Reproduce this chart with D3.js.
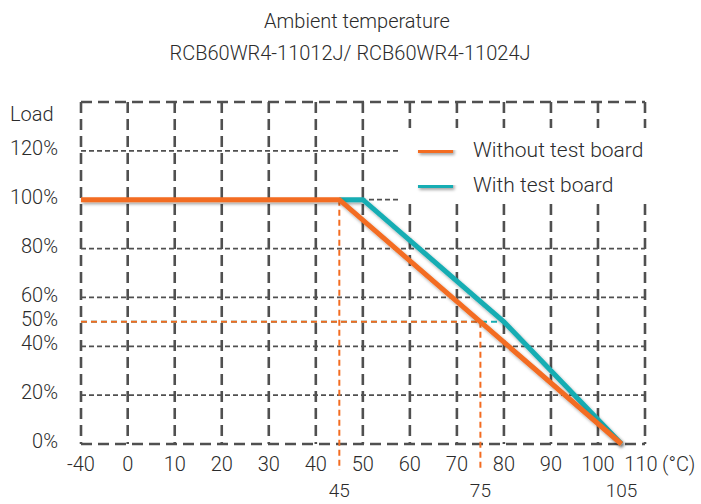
<!DOCTYPE html>
<html>
<head>
<meta charset="utf-8">
<script src="https://cdn.jsdelivr.net/npm/d3@7"></script>
<style>
  body { margin: 0; background: #fff; }
  text { font-family: Roboto, "Noto Sans", sans-serif; font-weight: 300; fill: #2b2b2b; }
</style>
</head>
<body>
<div id="chart"></div>
<script>
// data
var xTicks = [-40, 0, 10, 20, 30, 40, 50, 60, 70, 80, 90, 100, 110];
var markTicks = [45, 75, 105];
var yTicks = [0, 20, 40, 50, 60, 80, 100, 120];
var gridY = [20, 40, 60, 80, 100, 120];
var withoutBoard = [[-40, 100], [45, 100], [105, 0]];
var withBoard = [[45, 100], [50, 100], [80, 50], [105, 0]];
var guides = [[45, 100], [75, 50]];

var svg = d3.select("#chart").append("svg")
	.attr("width", 701)
	.attr("height", 504);

var x = d3.scaleLinear().domain([-40, 0, 110]).range([81, 127.7, 645]);
var y = d3.scaleLinear().domain([0, 140]).range([444, 102]);

var defs = svg.append("defs");
var f = defs.append("filter").attr("id", "shadow")
	.attr("filterUnits", "userSpaceOnUse")
	.attr("x", 0).attr("y", 0).attr("width", 701).attr("height", 504);
f.append("feDropShadow").attr("dx", 1.5).attr("dy", 2).attr("stdDeviation", 1.5)
	.attr("flood-color", "#000").attr("flood-opacity", 0.35);

// title
svg.append("text").attr("x", 357).attr("y", 28).attr("text-anchor", "middle")
	.attr("font-size", 20).text("Ambient temperature");
svg.append("text").attr("x", 350).attr("y", 60).attr("text-anchor", "middle")
	.attr("font-size", 20).text("RCB60WR4-11012J/ RCB60WR4-11024J");

var grid = svg.append("g");

// thin horizontal grid
grid.selectAll("line.h").data(gridY).enter().append("line")
	.attr("x1", x(-40)).attr("x2", x(110))
	.attr("y1", function (d) { return y(d); })
	.attr("y2", function (d) { return y(d); })
	.attr("stroke", "#505050").attr("stroke-width", 1.8)
	.attr("stroke-dasharray", "5,3");

// thick vertical grid
grid.selectAll("line.v").data(xTicks.slice(1, -1)).enter().append("line")
	.attr("x1", function (d) { return x(d); })
	.attr("x2", function (d) { return x(d); })
	.attr("y1", y(140)).attr("y2", y(0))
	.attr("stroke", "#505050").attr("stroke-width", 2.6)
	.attr("stroke-dasharray", "11,6");

// frame
var frame = [
	[-40, 140, 110, 140], [-40, 0, 110, 0],
	[-40, 140, -40, 0], [110, 140, 110, 0]
];
grid.selectAll("line.f").data(frame).enter().append("line")
	.attr("x1", function (d) { return x(d[0]); })
	.attr("y1", function (d) { return y(d[1]); })
	.attr("x2", function (d) { return x(d[2]); })
	.attr("y2", function (d) { return y(d[3]); })
	.attr("stroke", "#505050").attr("stroke-width", 2.6)
	.attr("stroke-dasharray", "11,6");

// legend background hides the grid
svg.append("rect").attr("x", 399).attr("y", 128).attr("width", 270).attr("height", 76)
	.attr("fill", "#fff");

// guide lines
svg.append("line")
	.attr("x1", x(-40)).attr("x2", x(80)).attr("y1", y(50)).attr("y2", y(50))
	.attr("stroke", "#17adb3").attr("stroke-width", 2).attr("stroke-dasharray", "6,4");
svg.append("line")
	.attr("x1", x(-40)).attr("x2", x(75)).attr("y1", y(50)).attr("y2", y(50))
	.attr("stroke", "#f36c21").attr("stroke-width", 2).attr("stroke-dasharray", "6,4");
svg.selectAll("line.g").data(guides).enter().append("line")
	.attr("x1", function (d) { return x(d[0]); })
	.attr("x2", function (d) { return x(d[0]); })
	.attr("y1", function (d) { return y(d[1]); })
	.attr("y2", 470)
	.attr("stroke", "#f36c21").attr("stroke-width", 2).attr("stroke-dasharray", "6,4");

// curves
var line = d3.line()
	.x(function (d) { return x(d[0]); })
	.y(function (d) { return y(d[1]); });

svg.append("path").datum(withBoard).attr("d", line)
	.attr("fill", "none").attr("stroke", "#17adb3").attr("stroke-width", 5)
	.attr("filter", "url(#shadow)");
svg.append("path").datum(withoutBoard).attr("d", line)
	.attr("fill", "none").attr("stroke", "#f36c21").attr("stroke-width", 5)
	.attr("filter", "url(#shadow)");

// y labels
svg.append("text").attr("x", 10).attr("y", 121).attr("font-size", 20).text("Load");
svg.selectAll("text.yl").data(yTicks).enter().append("text")
	.attr("x", 58)
	.attr("y", function (d) { return y(d) - 3; })
	.attr("dy", "0.36em")
	.attr("text-anchor", "end")
	.attr("font-size", 20)
	.text(function (d) { return d + "%"; });

// x labels
svg.selectAll("text.xl").data(xTicks).enter().append("text")
	.attr("x", function (d) { return d == 110 ? x(d) - 4 : x(d); })
	.attr("y", 471)
	.attr("text-anchor", "middle")
	.attr("font-size", 20)
	.text(function (d) { return d; });
svg.append("text").attr("x", 662).attr("y", 471).attr("font-size", 20).text("(°C)");

svg.selectAll("text.ml").data(markTicks).enter().append("text")
	.attr("x", function (d) { return x(d); })
	.attr("y", 497)
	.attr("text-anchor", "middle")
	.attr("font-size", 19)
	.text(function (d) { return d; });

// legend
var legend = [
	{ name: "Without test board", color: "#f36c21" },
	{ name: "With test board", color: "#17adb3" }
];
var lg = svg.selectAll("g.lg").data(legend).enter().append("g")
	.attr("transform", function (d, i) { return "translate(0," + (150 + 35 * i) + ")"; });
lg.append("line").attr("x1", 418).attr("x2", 453).attr("y1", 0).attr("y2", 0)
	.attr("stroke", function (d) { return d.color; }).attr("stroke-width", 6)
	.attr("filter", "url(#shadow)");
lg.append("text").attr("x", 473).attr("y", 7).attr("font-size", 21)
	.text(function (d) { return d.name; });
</script>
</body>
</html>
